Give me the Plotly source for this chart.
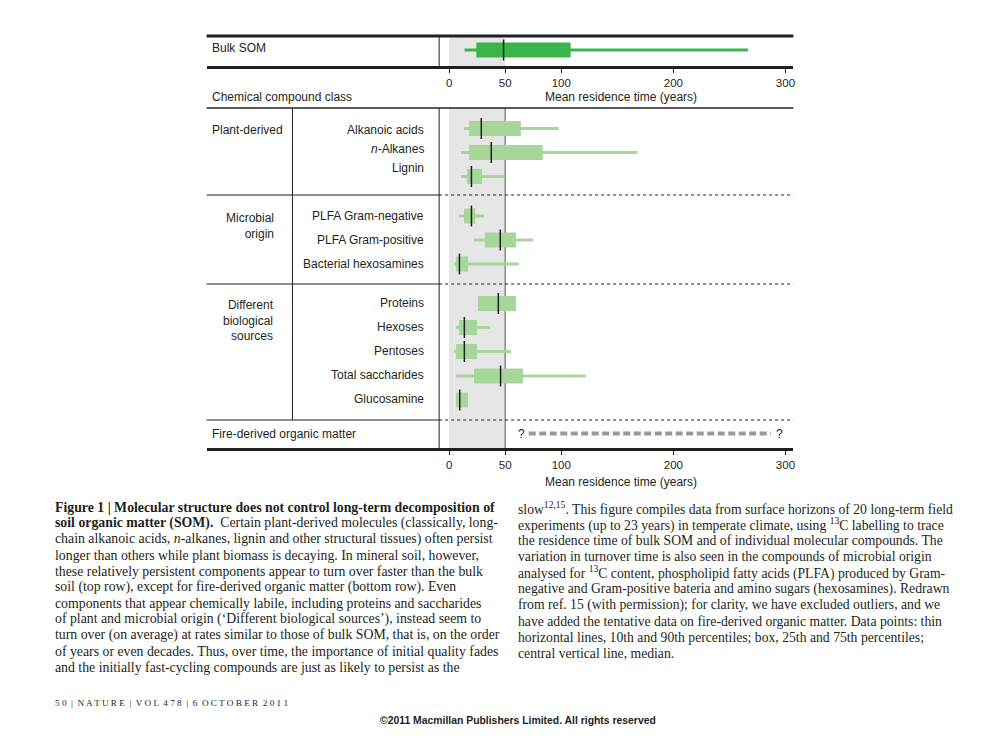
import plotly.graph_objects as go

# ---------------- data ----------------
bulk_label = "Bulk SOM"
bulk_p10, bulk_q25, bulk_median, bulk_q75, bulk_p90 = 13.7, 24.3, 48.6, 108.4, 266.5

compounds = ["Alkanoic acids", "<i>n</i>-Alkanes", "Lignin",
             "PLFA Gram-negative", "PLFA Gram-positive", "Bacterial hexosamines",
             "Proteins", "Hexoses", "Pentoses", "Total saccharides", "Glucosamine"]
p10 =    [13.3, 10.7, 10.7,  8.9, 22.2,  4.4, None,  6.2,  4.4,  6.2, None]
q25 =    [17.8, 17.8, 16.0, 13.3, 32.0,  6.2, 25.8,  8.9,  6.2, 22.2,  6.2]
median = [28.7, 37.6, 19.9, 19.9, 45.6,  9.2, 43.9, 13.6, 13.6, 45.9,  9.5]
q75 =    [64.0, 83.6, 29.3, 23.1, 59.6, 16.9, 59.6, 24.9, 24.9, 65.8, 16.9]
p90 =    [97.8, 168.0, 48.9, 31.1, 74.7, 62.2, None, 36.4, 55.1, 121.8, None]

groups = ["Plant-derived", "Microbial<br>origin", "Different<br>biological<br>sources"]
fire_label = "Fire-derived organic matter"
fire_range = [71, 287]          # tentative, open-ended ("?")

tick_vals = [0, 50, 100, 200, 300]
shade_range = [0, 50]
axis_title = "Mean residence time (years)"
class_title = "Chemical compound class"

caption_left = [
    "<b>Figure 1 | Molecular structure does not control long-term decomposition of</b>",
    "<b>soil organic matter (SOM).</b>  Certain plant-derived molecules (classically, long-",
    "chain alkanoic acids, <i>n</i>-alkanes, lignin and other structural tissues) often persist",
    "longer than others while plant biomass is decaying. In mineral soil, however,",
    "these relatively persistent components appear to turn over faster than the bulk",
    "soil (top row), except for fire-derived organic matter (bottom row). Even",
    "components that appear chemically labile, including proteins and saccharides",
    "of plant and microbial origin (‘Different biological sources’), instead seem to",
    "turn over (on average) at rates similar to those of bulk SOM, that is, on the order",
    "of years or even decades. Thus, over time, the importance of initial quality fades",
    "and the initially fast-cycling compounds are just as likely to persist as the",
]
caption_right = [
    "slow<sup>12,15</sup>. This figure compiles data from surface horizons of 20 long-term field",
    "experiments (up to 23 years) in temperate climate, using <sup>13</sup>C labelling to trace",
    "the residence time of bulk SOM and of individual molecular compounds. The",
    "variation in turnover time is also seen in the compounds of microbial origin",
    "analysed for <sup>13</sup>C content, phospholipid fatty acids (PLFA) produced by Gram-",
    "negative and Gram-positive bateria and amino sugars (hexosamines). Redrawn",
    "from ref. 15 (with permission); for clarity, we have excluded outliers, and we",
    "have added the tentative data on fire-derived organic matter. Data points: thin",
    "horizontal lines, 10th and 90th percentiles; box, 25th and 75th percentiles;",
    "central vertical line, median.",
]
footer = "5 0  |  N A T U R E  |  V O L  4 7 8  |  6  O C T O B E R  2 0 1 1"
copyright_text = "<b>©2011 Macmillan Publishers Limited. All rights reserved</b>"

# ---------------- layout constants (pixels) ----------------
W, H = 1000, 750
OFF = 8                         # page body margin in the browser
SANS = "Liberation Sans, Arial, sans-serif"
SERIF = "Liberation Serif, Times New Roman, serif"
INK = "#231f20"
DARK_GREEN = "#39b54a"
LIGHT_GREEN = "#a6d69a"
SHADE = "#e6e6e6"

LEFT, RIGHT = 207, 795          # extent of the table rules
PLOT_L = 440                    # left border of plot area
SUB_L = 293                     # separator between group / compound columns
PX0, PX300 = 450, 787           # pixel positions of 0 and 300 years
kx = (PX300 - PX0) / 300.0
xr = [(LEFT - PX0) / kx, (RIGHT - PX0) / kx]

TOP_Y0, TOP_Y1 = 36, 66         # top panel (bulk SOM)
BOT_Y0, BOT_Y1 = 108, 448       # bottom panel
bulk_row_y = 50
row_y = [128.5, 152.5, 176.5, 216, 240, 264, 303.5, 327.5, 351.5, 376, 400]
label_y = [130, 149, 168, 216, 240, 264, 303, 327, 351, 375, 399]
group_top = [None, 209, 296]
group_sep_y = [195, 284, 420]
fire_y = 433.5
BOX_H, WHISK_H = 15, 3


def py(p):
    return 1 - (p - OFF) / H


def px(p):
    return (p - OFF) / W


fig = go.Figure()

# ---- top panel: bulk SOM ----
fig.add_trace(go.Bar(orientation="h", y=[bulk_row_y], base=[bulk_p10], x=[bulk_p90 - bulk_p10],
                     width=WHISK_H, marker=dict(color=DARK_GREEN, line=dict(width=0)),
                     xaxis="x", yaxis="y", hoverinfo="skip", showlegend=False))
fig.add_trace(go.Bar(orientation="h", y=[bulk_row_y], base=[bulk_q25], x=[bulk_q75 - bulk_q25],
                     width=BOX_H, marker=dict(color=DARK_GREEN, line=dict(width=0)),
                     xaxis="x", yaxis="y", hoverinfo="skip", showlegend=False))
fig.add_trace(go.Scatter(x=[bulk_median], y=[bulk_row_y], mode="markers",
                         marker=dict(symbol="line-ns", size=BOX_H, line=dict(width=1.5, color=INK)),
                         xaxis="x", yaxis="y", hoverinfo="skip", showlegend=False))

# ---- bottom panel: compounds ----
wy = [y for y, a, b in zip(row_y, p10, p90) if a is not None and b is not None]
wb = [a for a, b in zip(p10, p90) if a is not None and b is not None]
wl = [b - a for a, b in zip(p10, p90) if a is not None and b is not None]
fig.add_trace(go.Bar(orientation="h", y=wy, base=wb, x=wl, width=WHISK_H,
                     marker=dict(color=LIGHT_GREEN, line=dict(width=0)),
                     xaxis="x2", yaxis="y2", hoverinfo="skip", showlegend=False))
fig.add_trace(go.Bar(orientation="h", y=row_y, base=q25, x=[b - a for a, b in zip(q25, q75)],
                     width=BOX_H, marker=dict(color=LIGHT_GREEN, line=dict(width=0)),
                     xaxis="x2", yaxis="y2", hoverinfo="skip", showlegend=False))
fig.add_trace(go.Scatter(x=median, y=row_y, mode="markers",
                         marker=dict(symbol="line-ns", size=BOX_H, line=dict(width=1.5, color=INK)),
                         xaxis="x2", yaxis="y2", hoverinfo="skip", showlegend=False))
# fire-derived (tentative)
fig.add_trace(go.Scatter(x=fire_range, y=[fire_y, fire_y], mode="lines",
                         line=dict(color="#999999", width=4, dash="7px,3.5px"),
                         xaxis="x2", yaxis="y2", hoverinfo="skip", showlegend=False))

axis_common = dict(range=xr, domain=[px(LEFT), px(RIGHT)], tickvals=tick_vals,
                   ticks="outside", ticklen=4, tickwidth=1, tickcolor=INK,
                   showline=True, linewidth=3, linecolor=INK,
                   showgrid=False, zeroline=False, fixedrange=True,
                   tickfont=dict(family=SANS, size=11.5, color=INK))
fig.update_layout(
    width=W, height=H, margin=dict(l=0, r=0, t=0, b=0),
    paper_bgcolor="white", plot_bgcolor="rgba(0,0,0,0)",
    barmode="overlay", showlegend=False,
    xaxis=dict(anchor="y", **axis_common),
    yaxis=dict(domain=[py(TOP_Y1), py(TOP_Y0)], range=[TOP_Y1, TOP_Y0], visible=False, fixedrange=True),
    xaxis2=dict(anchor="y2", **axis_common),
    yaxis2=dict(domain=[py(BOT_Y1), py(BOT_Y0)], range=[BOT_Y1, BOT_Y0], visible=False, fixedrange=True),
)

shapes = []
# shaded 0-50 band
for xa, ya in (("x", "y"), ("x2", "y2")):
    shapes.append(dict(type="rect", xref=xa, yref=ya + " domain", x0=shade_range[0], x1=shade_range[1],
                       y0=0, y1=1, fillcolor=SHADE, line=dict(width=0), layer="below"))
shapes.append(dict(type="line", xref="x2", yref="y2 domain", x0=shade_range[1], x1=shade_range[1],
                   y0=0, y1=1, line=dict(color="#6d6d6d", width=1.2), layer="below"))
# rules
shapes.append(dict(type="line", xref="paper", yref="paper", x0=px(LEFT), x1=px(RIGHT),
                   y0=py(TOP_Y0), y1=py(TOP_Y0), line=dict(color=INK, width=3)))
shapes.append(dict(type="line", xref="paper", yref="paper", x0=px(LEFT), x1=px(RIGHT),
                   y0=py(BOT_Y0), y1=py(BOT_Y0), line=dict(color=INK, width=1.5)))
shapes.append(dict(type="line", xref="paper", yref="paper", x0=px(PLOT_L), x1=px(PLOT_L),
                   y0=py(TOP_Y0), y1=py(TOP_Y1), line=dict(color=INK, width=1)))
shapes.append(dict(type="line", xref="paper", yref="paper", x0=px(PLOT_L), x1=px(PLOT_L),
                   y0=py(BOT_Y0), y1=py(BOT_Y1), line=dict(color=INK, width=1)))
shapes.append(dict(type="line", xref="paper", yref="paper", x0=px(SUB_L), x1=px(SUB_L),
                   y0=py(BOT_Y0), y1=py(group_sep_y[-1]), line=dict(color=INK, width=1)))
for gy in group_sep_y:
    shapes.append(dict(type="line", xref="paper", yref="paper", x0=px(LEFT), x1=px(PLOT_L),
                       y0=py(gy), y1=py(gy), line=dict(color=INK, width=1)))
    shapes.append(dict(type="line", xref="paper", yref="paper", x0=px(PLOT_L), x1=px(RIGHT),
                       y0=py(gy), y1=py(gy), line=dict(color=INK, width=1, dash="dot")))
fig.update_layout(shapes=shapes)

ann = []


def text(t, x, y, anchor="left", size=12, family=SANS, xref="paper", yref="paper", valign="middle"):
    ann.append(dict(text=t, x=x, y=y, xref=xref, yref=yref, xanchor=anchor, yanchor=valign,
                    showarrow=False, align=anchor if anchor != "center" else "center",
                    font=dict(family=family, size=size, color=INK)))


text(bulk_label, px(210), py(48))
text(class_title, px(210), py(97))
for yy in (97, 482):
    text(axis_title, px(622), py(yy), anchor="center")
text(groups[0], px(210), py(130))
text(groups[1], px(277), py(group_top[1]), anchor="right", valign="top")
text(groups[2], px(277), py(group_top[2]), anchor="right", valign="top")
for lab, yy in zip(compounds, label_y):
    text(lab, px(427), py(yy), anchor="right")
text(fire_label, px(210), py(fire_y))
# question marks at the open ends of the fire-derived range
ann.append(dict(text="?", x=fire_range[0], y=fire_y, xref="x2", yref="y2", xanchor="right",
                xshift=-2, showarrow=False, font=dict(family=SANS, size=12, color=INK)))
ann.append(dict(text="?", x=fire_range[1], y=fire_y, xref="x2", yref="y2", xanchor="left",
                xshift=3, showarrow=False, font=dict(family=SANS, size=12, color=INK)))

# caption
for i, line in enumerate(caption_left):
    text(line, px(53), py(507 + 16 * i), size=13.8, family=SERIF)
for i, line in enumerate(caption_right):
    text(line, px(517), py(508 + 16.2 * i), size=13.7, family=SERIF)
text(footer, px(53), py(703), size=9.2, family=SERIF)
text(copyright_text, px(519.5), py(720), anchor="center", size=10.4)

fig.update_layout(annotations=ann)
fig.write_html("out.html")
